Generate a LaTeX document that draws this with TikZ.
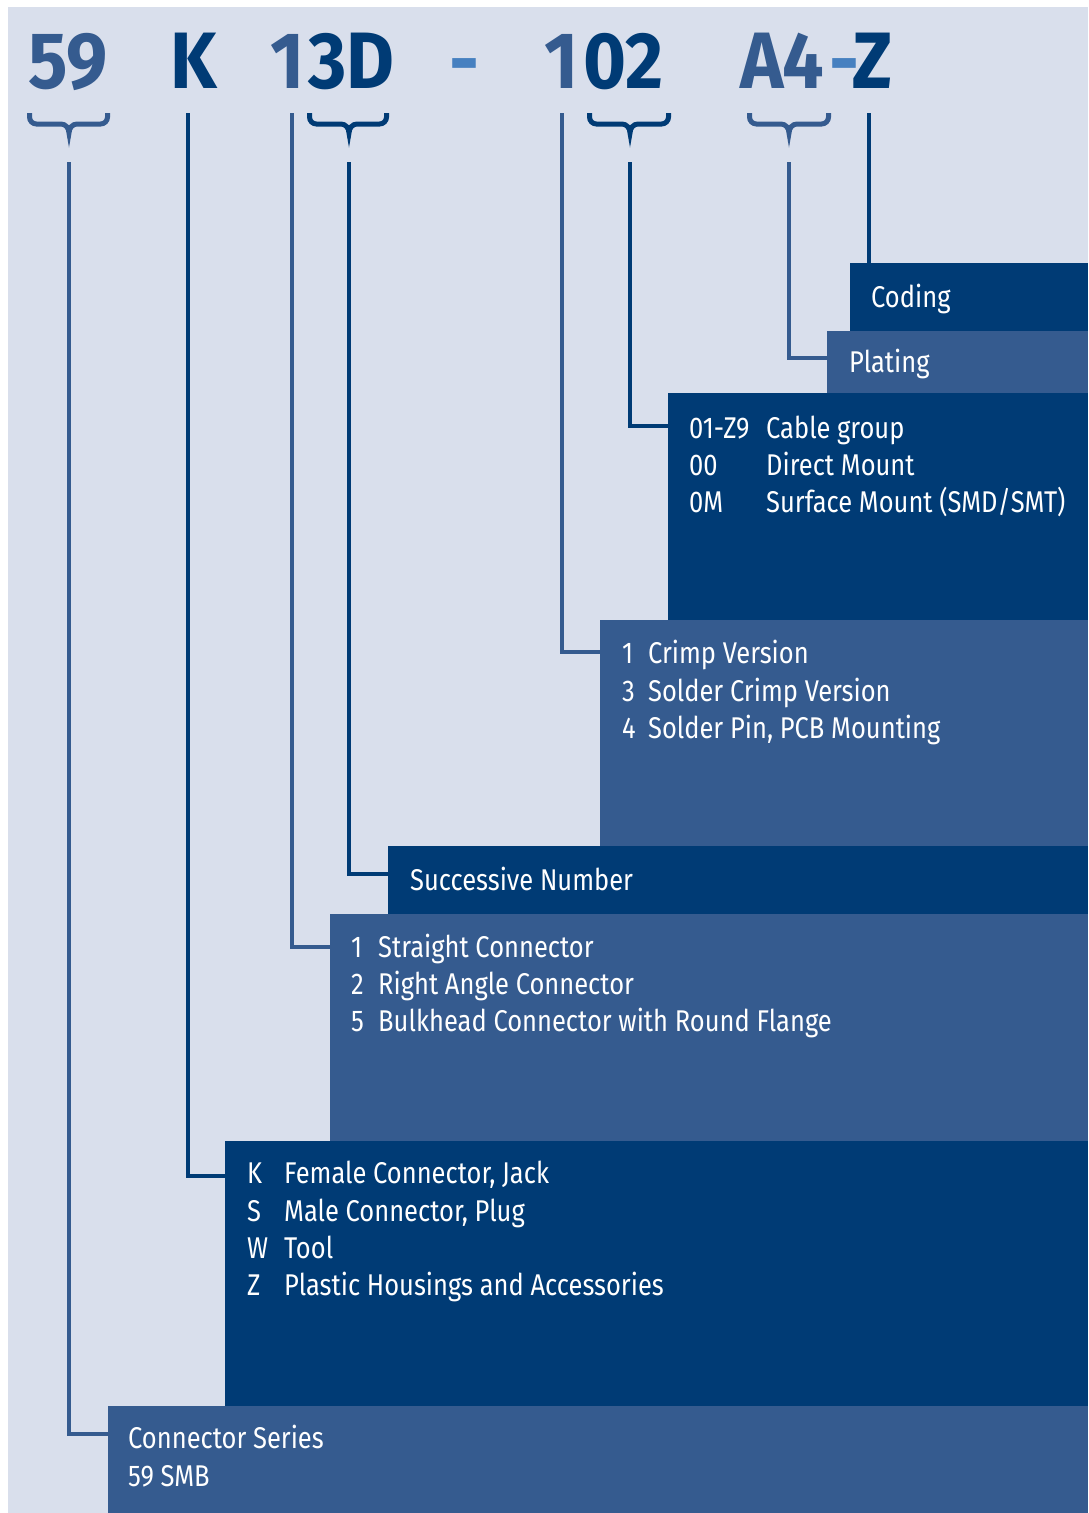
\documentclass[tikz,border=0pt]{standalone}
\usepackage{fontspec}
\setmainfont[FakeStretch=0.85]{Fira Sans}
\newfontfamily\hdrfont[FakeStretch=0.92]{Fira Sans}
\definecolor{cdark}{RGB}{0,59,117}
\definecolor{cmed}{RGB}{53,91,143}
\definecolor{cbg}{RGB}{217,223,236}
\definecolor{chyph}{RGB}{70,128,192}
\newcommand{\bracebelow}[5]{% left, tip, right, colour
  \draw[bracestyle,#4] (#1,113) -- (#1,117) to[out=-90,in=180] ({#1+7},124) -- ({#2-8},124)
    to[out=0,in=90] (#2,133) to[out=90,in=180] ({#2+8},124) -- ({#3-7},124)
    to[out=0,in=-90] (#3,117) -- (#3,113);}
\begin{document}
\begin{tikzpicture}[x=1pt,y=-1pt,
  bracestyle/.style={line width=5pt},
  conn/.style={line width=4.5pt},
  boxd/.style={fill=cdark,draw=none,inner sep=0pt,anchor=north west},
  boxm/.style={fill=cmed,draw=none,inner sep=0pt,anchor=north west},
  txt/.style={text=white,font=\fontsize{30}{37}\selectfont,anchor=base west,inner sep=0pt},
  hdr/.style={font=\hdrfont\bfseries\fontsize{80}{80}\selectfont,anchor=base west,inner sep=0pt}]
\useasboundingbox (0,0) rectangle (1088,1513);
\fill[white] (0,0) rectangle (1088,1513);
\fill[cbg] (8,7) rectangle (1088,1513);

% header
\node[hdr,text=cmed] (h59) at (28,88) {59};
\node[hdr,text=cdark] (hK) at (170,88) {K};
\node[hdr,text=cmed] (h1a) at (270,88) {1};
\node[hdr,text=cdark] (h3D) at (308,88) {3D};
\node[hdr,text=chyph] (hd1) at (449,88) {-};
\node[hdr,text=cmed] (h1b) at (544,88) {1};
\node[hdr,text=cdark] (h02) at (583,88) {02};
\node[hdr,text=cmed] (hA4) at (740,88) {A4};
\node[hdr,text=chyph] (hd2) at (829,88) {-};
\node[hdr,text=cdark] (hZ) at (852,88) {Z};

% braces
\bracebelow{29.5}{69}{107.5}{cmed}{}
\bracebelow{309.5}{349}{386.5}{cdark}{}
\bracebelow{589.5}{630}{668.5}{cdark}{}
\bracebelow{749.5}{789}{828.5}{cmed}{}

% boxes
\node[boxd,minimum width=238pt,minimum height=68pt] (coding) at (850,263) {};
\node[boxm,minimum width=261pt,minimum height=62pt] (plating) at (827,331) {};
\node[boxd,minimum width=420pt,minimum height=227pt] (cable) at (668,393) {};
\node[boxm,minimum width=488pt,minimum height=226pt] (crimp) at (600,620) {};
\node[boxd,minimum width=700pt,minimum height=68pt] (succ) at (388,846) {};
\node[boxm,minimum width=758pt,minimum height=227pt] (straight) at (330,914) {};
\node[boxd,minimum width=863pt,minimum height=265pt] (female) at (225,1141) {};
\node[boxm,minimum width=980pt,minimum height=107pt] (series) at (108,1406) {};

% connector start points and rows
\coordinate (s59) at (69,162);   \coordinate (r59) at (0,1434);
\coordinate (sK) at (188,113);   \coordinate (rK) at (0,1176);
\coordinate (s1a) at (292,113);  \coordinate (r1a) at (0,947);
\coordinate (s3D) at (349,162);  \coordinate (r3D) at (0,874);
\coordinate (s1b) at (562,113);  \coordinate (r1b) at (0,652);
\coordinate (s02) at (630,162);  \coordinate (r02) at (0,426);
\coordinate (sA4) at (789,162);  \coordinate (rA4) at (0,358);
\coordinate (sZ) at (869,113);

\draw[conn,cmed] (s59) |- (series.west |- r59);
\draw[conn,cdark] (sK) |- (female.west |- rK);
\draw[conn,cmed] (s1a) |- (straight.west |- r1a);
\draw[conn,cdark] (s3D) |- (succ.west |- r3D);
\draw[conn,cmed] (s1b) |- (crimp.west |- r1b);
\draw[conn,cdark] (s02) |- (cable.west |- r02);
\draw[conn,cmed] (sA4) |- (plating.west |- rA4);
\draw[conn,cdark] (sZ) -- (sZ |- coding.north);

% texts
\node[txt] (tcoding) at (871,307) {Coding};
\node[txt] (tplating) at (849,372) {Plating};

\node[txt] (ca1) at (689,438) {01-Z9};
\node[txt] (cb1) at (766,438) {Cable group};
\node[txt] (ca2) at (689,475) {00};
\node[txt] (cb2) at (766,475) {Direct Mount};
\node[txt] (ca3) at (689,512) {0M};
\node[txt] (cb3) at (766,512) {Surface Mount (SMD/SMT)};

\node[txt] (ka1) at (622,663) {1};
\node[txt] (kb1) at (648,663) {Crimp Version};
\node[txt] (ka2) at (622,701) {3};
\node[txt] (kb2) at (648,701) {Solder Crimp Version};
\node[txt] (ka3) at (622,738) {4};
\node[txt] (kb3) at (648,738) {Solder Pin, PCB Mounting};

\node[txt] (tsucc) at (410,890) {Successive Number};

\node[txt] (sa1) at (351,957) {1};
\node[txt] (sb1) at (378,957) {Straight Connector};
\node[txt] (sa2) at (351,994) {2};
\node[txt] (sb2) at (378,994) {Right Angle Connector};
\node[txt] (sa3) at (351,1031) {5};
\node[txt] (sb3) at (378,1031) {Bulkhead Connector with Round Flange};

\node[txt] (fa1) at (247,1183) {K};
\node[txt] (fb1) at (284,1183) {Female Connector, Jack};
\node[txt] (fa2) at (247,1221) {S};
\node[txt] (fb2) at (284,1221) {Male Connector, Plug};
\node[txt] (fa3) at (247,1258) {W};
\node[txt] (fb3) at (284,1258) {Tool};
\node[txt] (fa4) at (247,1295) {Z};
\node[txt] (fb4) at (284,1295) {Plastic Housings and Accessories};

\node[txt] (se1) at (128,1448) {Connector Series};
\node[txt] (se2) at (128,1486) {59 SMB};
\end{tikzpicture}
\end{document}
